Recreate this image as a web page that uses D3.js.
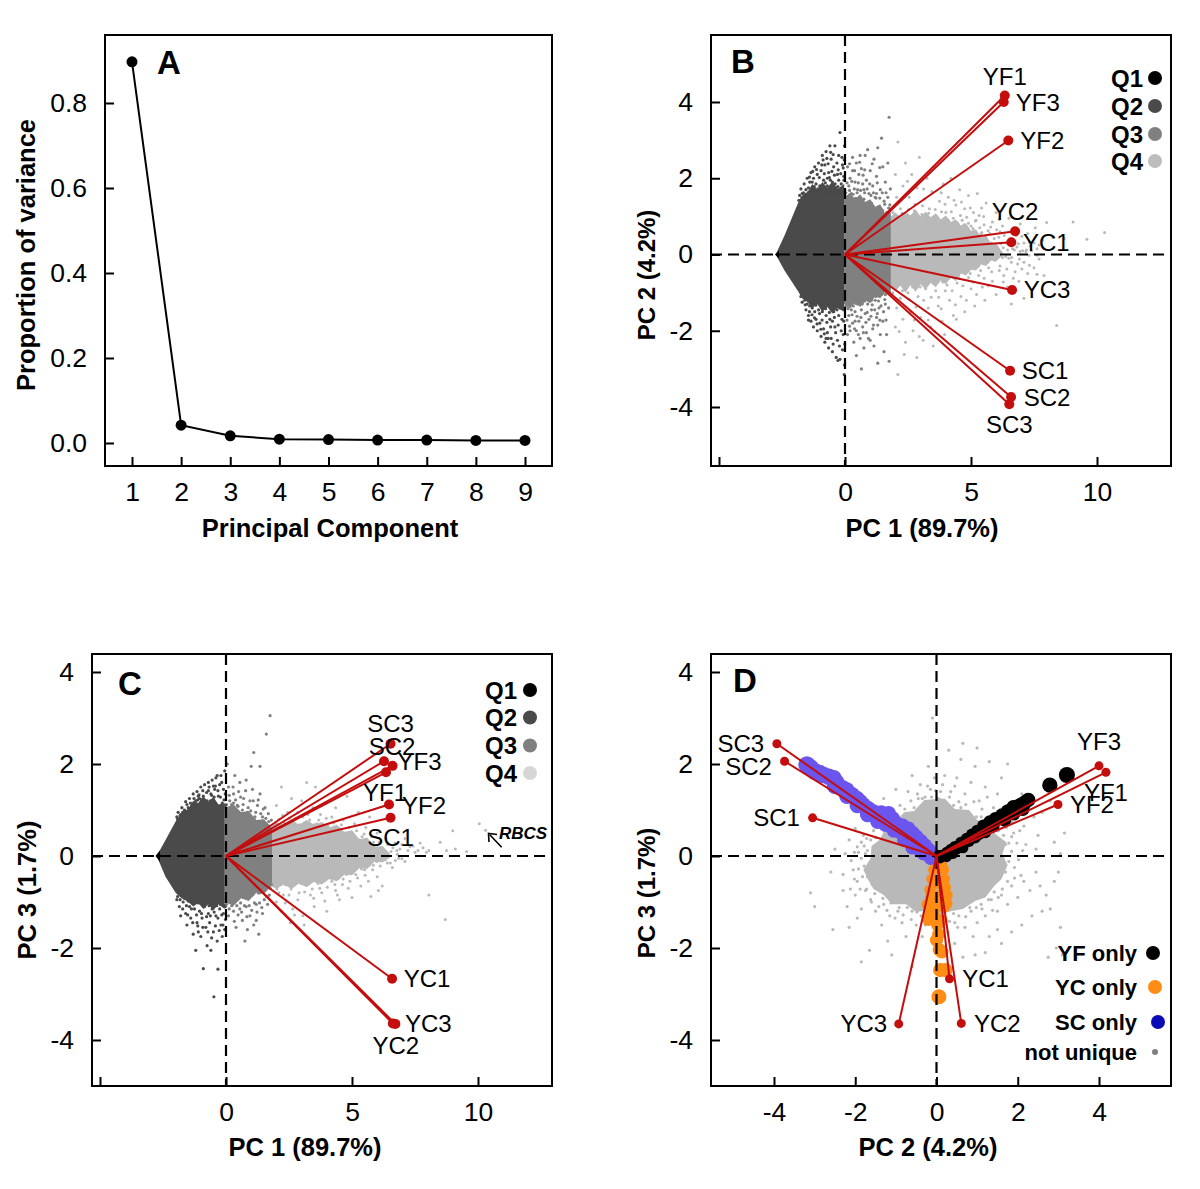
<!DOCTYPE html>
<html><head><meta charset="utf-8"><script src="https://cdn.jsdelivr.net/npm/d3@7"></script>
<style>html,body{margin:0;background:#fff}svg{display:block}text{font-family:"Liberation Sans",Arial,sans-serif;fill:#000}</style></head><body><svg id="c" width="1200" height="1189"></svg>
<script>
// ---------- data ----------
const components=[1,2,3,4,5,6,7,8,9];
const proportion=[0.897,0.042,0.017,0.009,0.008,0.007,0.007,0.006,0.006];
const samples=["YF1","YF2","YF3","YC1","YC2","YC3","SC1","SC2","SC3"];
const loadPC1b=[6.34,6.48,6.30,6.60,6.75,6.63,6.55,6.59,6.52];
const loadPC2=[4.17,2.99,4.00,0.32,0.61,-0.93,-3.05,-3.74,-3.93];
const loadPC1c=[6.35,6.47,6.61,6.59,6.62,6.72,6.53,6.27,6.53];
const loadPC3=[1.82,1.12,1.96,-2.67,-3.64,-3.65,0.83,2.06,2.44];

// dense core outlines [x, upper, lower]
const bandBQ1=[[-2.78,0,0],[-2.62,.1,-.1]];
const bandBQ2=[[-2.75,0,0],[-2.4,.5,-.42],[-1.85,1.37,-.98],[-1.7,1.55,-1.15],[-1.5,1.62,-1.22],[-1.3,1.85,-1.4],[-1.1,1.7,-1.3],[-.9,1.9,-1.5],[-.7,1.75,-1.38],[-.5,1.92,-1.55],[-.3,1.72,-1.4],[-.03,1.85,-1.5]];
const bandBQ3=[[-.03,1.5,-1.3],[.2,1.62,-1.42],[.4,1.45,-1.25],[.6,1.58,-1.38],[.8,1.38,-1.2],[1.0,1.45,-1.28],[1.2,1.25,-1.1],[1.4,1.32,-1.15],[1.6,1.05,-.98],[1.82,1.1,-1.02]];
const bandBQ4=[[1.82,1.0,-.85],[2.0,1.1,-.95],[2.2,.98,-.82],[2.4,1.12,-1.0],[2.6,1.02,-.8],[2.8,1.18,-.98],[3.0,1.0,-.78],[3.2,1.12,-.92],[3.4,.98,-.74],[3.6,1.08,-.86],[3.8,.92,-.68],[4.0,1.02,-.78],[4.2,.85,-.6],[4.4,.92,-.7],[4.6,.76,-.5],[4.8,.82,-.55],[5.0,.62,-.4],[5.2,.66,-.42],[5.4,.45,-.26],[5.6,.5,-.3],[5.8,.28,-.16],[6.0,.3,-.18],[6.2,.1,-.06]];
const bandCQ1=[[-2.8,0,0],[-2.62,.12,-.12]];
const bandCQ2=[[-2.75,0,0],[-2.4,.35,-.45],[-2,.75,-.8],[-1.8,.92,-.9],[-1.5,1.02,-1.0],[-1.3,1.2,-1.1],[-1.1,1.15,-1.02],[-.9,1.3,-1.15],[-.7,1.18,-1.05],[-.5,1.28,-1.18],[-.3,1.12,-1.05],[-.05,1.15,-1.15]];
const bandCQ3=[[-.05,1.05,-1.0],[.3,1.12,-1.08],[.6,.95,-.92],[.9,.98,-.98],[1.2,.78,-.8],[1.5,.8,-.82],[1.83,.62,-.64]];
const bandCQ4=[[1.83,.66,-.65],[2.0,.74,-.72],[2.3,.66,-.62],[2.6,.78,-.72],[2.9,.68,-.6],[3.2,.78,-.68],[3.5,.68,-.56],[3.8,.74,-.62],[4.1,.62,-.5],[4.4,.68,-.55],[4.7,.52,-.4],[5,.56,-.42],[5.3,.36,-.26],[5.6,.4,-.28],[5.9,.2,-.12],[6.2,.22,-.14],[6.5,.06,-.04]];
const blobD=[[-.3,1.22],[-.55,.98],[-.8,.95],[-1.0,.72],[-1.25,.62],[-1.4,.35],[-1.6,.22],[-1.62,-.05],[-1.8,-.3],[-1.68,-.52],[-1.55,-.72],[-1.3,-.85],[-1.1,-1.05],[-.75,-1.05],[-.5,-1.22],[-.2,-1.18],[0,-1.3],[.35,-1.2],[.65,-1.15],[.95,-.98],[1.2,-.9],[1.42,-.65],[1.6,-.5],[1.75,-.2],[1.62,.05],[1.72,.3],[1.45,.48],[1.3,.7],[1.0,.78],[.8,1.0],[.45,1.02],[.2,1.25]];

const scatterBQ2=[[-1.8,1.55],[-1.75,1.72],[-1.7,1.6],[-1.62,1.85],[-1.55,1.7],[-1.5,2.0],[-1.45,1.75],[-1.4,1.9],[-1.35,2.15],[-1.3,1.7],[-1.25,2.0],[-1.2,2.3],[-1.15,1.85],[-1.1,2.1],[-1.05,2.4],[-1,1.8],[-.95,2.2],[-.9,2.6],[-.85,1.95],[-.8,2.35],[-.75,2.7],[-.7,1.8],[-.65,2.15],[-.6,2.85],[-.55,2.5],[-.5,1.9],[-.45,2.3],[-.4,2.85],[-.35,1.75],[-.3,2.1],[-.25,2.6],[-.2,3.2],[-.15,1.85],[-.1,2.35],[-.05,2.05],[-.02,2.85],[-1.6,1.5],[-1.2,1.65],[-.8,1.7],[-.4,1.65],[-.1,1.7],[-1.65,1.62],[-1.3,1.9],[-1.05,1.68],[-.7,2.0],[-.55,1.75],[-.25,1.95],
[-1.75,-1.1],[-1.7,-1.25],[-1.6,-1.2],[-1.55,-1.45],[-1.5,-1.3],[-1.45,-1.6],[-1.4,-1.35],[-1.35,-1.75],[-1.3,-1.4],[-1.25,-1.9],[-1.2,-1.5],[-1.15,-1.7],[-1.1,-2.0],[-1.05,-1.45],[-1,-1.8],[-.95,-2.15],[-.9,-1.5],[-.85,-1.95],[-.8,-2.3],[-.75,-1.6],[-.7,-2.05],[-.65,-2.45],[-.6,-1.7],[-.55,-2.2],[-.5,-2.55],[-.45,-1.5],[-.4,-1.9],[-.35,-2.7],[-.3,-2.25],[-.25,-1.6],[-.2,-2.75],[-.15,-2.0],[-.1,-2.5],[-.05,-1.75],[-.02,-2.9],[-.03,-3.15],[-1.3,-1.25],[-.9,-1.3],[-.5,-1.75],[-.2,-1.4],[-.65,-1.3],[-1.45,-1.72],[-.75,-2.2],[-.28,-2.78],
[-1.83,1.42],[-1.71,1.49],[-1.66,1.44],[-1.58,1.58],[-1.52,1.47],[-1.47,1.62],[-1.43,1.55],[-1.38,1.48],[-1.33,1.63],[-1.27,1.53],[-1.22,1.78],[-1.17,1.58],[-1.12,1.49],[-1.08,1.72],[-1.03,1.57],[-.98,1.66],[-.93,1.52],[-.88,1.77],[-.83,1.58],[-.78,1.88],[-.74,1.56],[-.69,1.69],[-.63,1.6],[-.58,1.95],[-.53,1.61],[-.48,1.72],[-.44,1.56],[-.39,1.85],[-.33,1.62],[-.28,1.78],[-.23,1.64],[-.18,1.6],[-.13,1.72],[-.08,1.62],[-.04,1.95],[-.01,1.68],
[-1.41,2.03],[-1.28,2.18],[-1.13,2.23],[-1.02,2.02],[-.92,2.35],[-.82,2.12],[-.67,2.38],[-.62,2.02],[-.52,2.18],[-.42,2.08],[-.32,2.4],[-.27,2.22],[-.17,2.12],[-.12,2.55],[-.07,2.27],[-.03,2.48],[-.57,2.68],[-.47,2.62],[-.72,2.52],[-.87,2.48],
[-1.72,-1.03],[-1.65,-1.12],[-1.58,-1.32],[-1.52,-1.18],[-1.46,-1.22],[-1.41,-1.5],[-1.36,-1.28],[-1.31,-1.58],[-1.26,-1.26],[-1.21,-1.66],[-1.16,-1.33],[-1.11,-1.82],[-1.06,-1.27],[-1.01,-1.55],[-.96,-1.96],[-.91,-1.72],[-.87,-1.28],[-.82,-2.08],[-.77,-1.42],[-.72,-1.78],[-.67,-2.2],[-.62,-1.52],[-.57,-1.9],[-.52,-1.33],[-.47,-2.35],[-.42,-1.65],[-.37,-2.05],[-.32,-1.45],[-.27,-1.85],[-.22,-2.4],[-.17,-1.35],[-.12,-1.7],[-.07,-2.1],[-.04,-1.4],[-.01,-2.35],[-.6,-1.3]];
const scatterBQ3=[[.05,1.4],[.1,2.3],[.15,1.8],[.2,2.0],[.25,1.6],[.3,2.2],[.35,1.45],[.4,1.9],[.45,2.4],[.5,1.7],[.55,2.1],[.6,1.5],[.65,2.25],[.7,1.85],[.75,1.45],[.8,2.6],[.85,1.95],[.9,2.75],[.95,1.6],[1,2.2],[1.05,1.35],[1.1,1.8],[1.15,2.5],[1.2,1.5],[1.25,2.05],[1.3,2.8],[1.35,1.25],[1.4,1.7],[1.45,3.05],[1.5,2.3],[1.55,1.4],[1.6,1.9],[1.65,1.1],[1.7,2.4],[1.75,3.6],[1.78,1.3],[.3,2.55],[.6,2.6],[.2,1.5],[.45,1.35],[.75,1.7],[1,1.3],[1.25,1.6],[1.5,1.15],[1.7,1.5],
[.05,-1.35],[.1,-2.1],[.15,-1.6],[.2,-2.0],[.25,-1.45],[.3,-1.8],[.35,-2.3],[.4,-1.5],[.45,-2.0],[.5,-1.3],[.55,-1.75],[.6,-2.2],[.65,-1.45],[.7,-1.9],[.75,-2.45],[.8,-1.55],[.85,-2.05],[.9,-1.3],[.95,-1.7],[1,-2.25],[1.05,-1.45],[1.1,-1.95],[1.15,-2.4],[1.2,-1.2],[1.25,-1.65],[1.3,-2.85],[1.35,-1.4],[1.4,-2.1],[1.45,-1.05],[1.5,-1.75],[1.55,-2.55],[1.6,-1.3],[1.65,-2.1],[1.7,-.95],[1.75,-2.8],[.45,-2.65],[.65,-3.0],[.15,-1.3],[.4,-1.75],[.7,-1.25],[1.05,-1.2],[1.3,-1.85],[1.6,-1.05],
[.03,1.62],[.08,1.88],[.12,1.52],[.18,1.68],[.22,1.42],[.27,1.92],[.32,1.58],[.37,1.72],[.42,1.47],[.48,1.62],[.53,1.88],[.58,1.42],[.62,1.68],[.68,1.38],[.72,2.08],[.78,1.62],[.83,1.32],[.88,1.72],[.93,1.25],[.98,1.85],[1.03,1.55],[1.08,1.25],[1.13,1.62],[1.18,1.18],[1.23,1.48],[1.28,1.88],[1.33,1.12],[1.38,1.48],[1.43,1.2],[1.48,1.62],[1.53,1.05],[1.58,1.32],[1.63,1.62],[1.68,1.0],[1.73,1.22],[1.8,1.72],[.18,2.38],[.38,2.2],[.58,2.42],[.78,2.22],[1.08,2.38],[1.38,2.28],
[.03,-1.25],[.08,-1.72],[.12,-1.42],[.18,-1.88],[.22,-1.25],[.28,-1.58],[.33,-1.35],[.38,-1.95],[.43,-1.28],[.48,-1.62],[.53,-2.1],[.58,-1.22],[.63,-1.65],[.68,-1.3],[.73,-2.05],[.78,-1.22],[.83,-1.78],[.88,-1.52],[.93,-2.2],[.98,-1.15],[1.03,-1.62],[1.08,-1.32],[1.13,-1.85],[1.18,-1.45],[1.23,-1.1],[1.28,-1.55],[1.33,-1.22],[1.38,-1.72],[1.43,-1.35],[1.48,-1.02],[1.53,-1.5],[1.58,-1.18],[1.63,-1.72],[1.68,-.98],[1.73,-1.4]];
const scatterBQ4=[[1.9,1.1],[2,2.1],[2.05,1.5],[2.1,2.95],[2.2,1.2],[2.3,1.8],[2.4,2.4],[2.45,1.0],[2.55,1.5],[2.65,2.1],[2.75,1.15],[2.85,1.75],[2.95,2.55],[3.05,1.05],[3.15,1.45],[3.25,2.0],[3.35,1.2],[3.45,1.65],[3.55,2.3],[3.65,1.0],[3.75,1.4],[3.9,1.85],[4,1.1],[4.1,1.5],[4.2,2.0],[4.3,.95],[4.4,1.3],[4.55,1.7],[4.65,.9],[4.75,1.2],[4.9,1.55],[5,.75],[5.1,1.1],[5.25,1.6],[5.35,.7],[5.5,1.0],[5.6,1.35],[5.75,.55],[5.85,.85],[6,1.1],[6.1,.45],[6.25,.75],[6.4,.3],[6.5,.95],[6.65,.15],[6.8,.5],[6.95,.8],[7.1,.3],[7.25,.55],[7.4,.1],[7.55,.7],[7.7,.25],[8,.84],[8.25,.45],[9.05,.85],[8.7,.42],[10.3,.58],[9.6,.4],
[5.6,.12],[5.8,.3],[6.0,.22],[6.2,.05],[6.45,.12],[6.7,.35],[6.95,.08],[7.2,.12],[7.5,.3],[5.4,.55],[4.9,.82],[4.4,.85],[3.6,.95],[2.8,.98],[6.15,.6],[5.2,.9],[4.1,.9],[3.2,.92],[2.3,.9],
[1.9,-1.0],[2,-1.9],[2.05,-1.4],[2.1,-3.15],[2.2,-1.15],[2.3,-1.7],[2.4,-2.3],[2.5,-1.0],[2.6,-1.5],[2.7,-2.0],[2.85,-2.7],[2.9,-1.1],[3,-1.65],[3.1,-2.25],[3.2,-.9],[3.3,-1.4],[3.4,-1.9],[3.5,-2.4],[3.6,-.95],[3.7,-1.35],[3.85,-1.75],[3.95,-2.1],[4.05,-.8],[4.15,-1.2],[4.3,-1.6],[4.45,-.75],[4.6,-1.1],[4.75,-1.5],[4.9,-.6],[5,-.9],[5.15,-1.35],[5.3,-.55],[5.45,-.85],[5.55,-1.2],[5.7,-.35],[5.85,-.7],[6,-1.05],[6.15,-.3],[6.3,-.55],[6.45,-.85],[6.6,-.2],[6.75,-.45],[6.9,-.7],[7.1,-.2],[7.25,-.5],[7.5,-.35],[7.9,-.55],[8.4,-1.86],[7.1,-1.15],[6.6,-1.3],[5.65,-.2],[5.95,-.15],[6.25,-.08],[6.5,-.1],[4.5,-.55],[3.5,-.75],[2.7,-.8],[4.9,-.42],[5.3,-.3],[3.9,-.7],[7.3,-.02],[7.7,-.12],
[1.88,.95],[2.02,1.02],[2.13,.92],[2.27,1.08],[2.38,.96],[2.52,1.18],[2.62,.98],[2.78,1.32],[2.92,1.0],[3.08,1.28],[3.18,.98],[3.32,1.08],[3.48,.95],[3.58,1.18],[3.72,.92],[3.83,1.12],[3.97,1.32],[4.08,.88],[4.22,1.12],[4.33,1.42],[4.47,.82],[4.58,1.02],[4.72,.78],[4.83,.98],[4.97,1.22],[5.08,.68],[5.17,.88],[5.32,1.02],[5.43,.58],[5.52,.78],[5.68,.62],[5.78,.72],[5.92,.42],[6.02,.65],[6.18,.28],[6.32,.5],[6.58,.42],[6.72,.12],[6.88,.28],[7.02,.48],[7.18,.08],[7.32,.32],[7.62,.15],[7.85,.38],[6.12,.92],[5.42,1.22],[4.62,1.38],[3.82,1.62],[3.12,1.72],[2.48,1.92],
[5.62,.28],[5.72,.08],[5.88,.18],[6.08,.12],[6.28,.18],[6.38,-.05],[6.55,.25],[6.62,-.08],[6.82,.2],[6.92,-.12],[7.05,.1],[7.35,.22],[7.62,-.02],
[1.88,-.8],[2.02,-.88],[2.15,-.78],[2.28,-.95],[2.42,-.82],[2.55,-1.18],[2.68,-.85],[2.82,-1.38],[2.98,-.85],[3.12,-1.2],[3.28,-.78],[3.42,-1.12],[3.58,-.78],[3.72,-1.12],[3.88,-.72],[3.98,-.95],[4.12,-.62],[4.25,-.95],[4.38,-1.32],[4.52,-.62],[4.68,-.82],[4.82,-1.2],[4.97,-.5],[5.08,-.72],[5.22,-1.05],[5.38,-.42],[5.52,-.62],[5.68,-.82],[5.82,-.45],[6.12,-.42],[6.28,-.72],[6.42,-.38],[6.68,-.62],[6.85,-.25],[7.02,-.38],[7.32,-.28],[7.62,-.52],[3.3,-1.72],[3.82,-1.42],[4.42,-1.7],[2.15,-2.02],[2.75,-1.72],[3.55,-2.02],[2.95,-2.15],[2.35,-2.62]];

const scatterCQ2=[[-1.95,.85],[-1.9,.95],[-1.8,.9],[-1.75,1.05],[-1.65,1.0],[-1.6,1.18],[-1.5,1.05],[-1.45,1.25],[-1.35,1.1],[-1.3,1.35],[-1.2,1.2],[-1.15,1.4],[-1.05,1.25],[-1,1.5],[-.9,1.3],[-.85,1.55],[-.75,1.2],[-.7,1.6],[-.6,1.35],[-.55,1.65],[-.5,1.2],[-.45,1.45],[-.4,1.7],[-.3,1.3],[-.25,1.55],[-.2,1.75],[-.15,1.15],[-.1,1.45],[-.05,1.85],[-.02,1.1],[-.35,1.75],[-.7,1.42],[-1.1,1.3],[-.5,1.52],[-.12,1.05],
[-1.95,-.95],[-1.85,-1.1],[-1.8,-1.3],[-1.7,-1.0],[-1.6,-1.25],[-1.55,-1.5],[-1.45,-1.1],[-1.4,-1.35],[-1.3,-1.7],[-1.25,-1.15],[-1.2,-2.05],[-1.15,-1.45],[-1.05,-1.2],[-1,-1.75],[-.95,-1.35],[-.9,-2.45],[-.85,-1.1],[-.8,-1.55],[-.75,-1.95],[-.7,-1.25],[-.65,-1.45],[-.6,-2.05],[-.55,-1.15],[-.5,-1.65],[-.48,-3.06],[-.4,-1.3],[-.35,-1.85],[-.32,-2.46],[-.25,-1.15],[-.2,-1.5],[-.15,-1.75],[-.1,-1.25],[-.05,-1.6],[-.03,-1.1],[-1.5,-.98],[-1.1,-1.02],[-.6,-1.05],[-1.1,-1.65],
[-1.92,.8],[-1.82,.88],[-1.72,.95],[-1.62,.98],[-1.55,1.12],[-1.47,1.02],[-1.41,1.15],[-1.33,1.05],[-1.27,1.25],[-1.22,1.12],[-1.12,1.22],[-1.07,1.33],[-.97,1.22],[-.92,1.42],[-.82,1.18],[-.77,1.38],[-.72,1.12],[-.67,1.5],[-.62,1.2],[-.57,1.32],[-.52,1.12],[-.47,1.28],[-.42,1.52],[-.37,1.1],[-.32,1.42],[-.27,1.08],[-.22,1.28],[-.17,1.6],[-.13,1.02],[-.08,1.22],[-.03,1.35],
[-1.92,-.88],[-1.82,-.95],[-1.72,-1.15],[-1.65,-.92],[-1.57,-1.08],[-1.52,-1.28],[-1.42,-.98],[-1.37,-1.15],[-1.32,-1.45],[-1.22,-1.0],[-1.17,-1.28],[-1.12,-1.52],[-1.02,-1.02],[-.97,-1.25],[-.92,-1.55],[-.82,-1.02],[-.77,-1.32],[-.72,-1.65],[-.67,-1.08],[-.62,-1.3],[-.57,-1.78],[-.52,-1.02],[-.47,-1.22],[-.42,-1.52],[-.37,-1.08],[-.32,-1.35],[-.27,-1.62],[-.22,-1.05],[-.17,-1.28],[-.12,-1.5],[-.07,-1.08],[-.02,-1.38]];
const scatterCQ3=[[.05,1.0],[.1,1.5],[.15,1.2],[.25,1.05],[.3,1.35],[.35,1.75],[.45,1.1],[.5,1.4],[.55,1.6],[.65,1.0],[.7,1.25],[.8,1.65],[.85,.95],[.95,1.2],[1.05,1.45],[1.1,2.25],[1.15,.85],[1.25,1.1],[1.35,1.35],[1.45,.85],[1.55,1.05],[1.6,2.65],[1.7,.75],[1.75,3.05],[.05,2.0],[.3,1.15],[1.35,1.95],[1.0,1.95],
[.05,-.95],[.1,-1.3],[.2,-1.0],[.3,-1.2],[.4,-1.55],[.45,-.95],[.55,-1.15],[.65,-1.4],[.7,-.9],[.8,-1.1],[.85,-1.6],[.95,-1.3],[1.05,-.85],[1.1,-1.5],[1.2,-1.05],[1.3,-1.7],[1.35,-.8],[1.45,-1.25],[1.55,-.75],[1.65,-1.05],[1.75,-.7],[.75,-1.85],[1.2,-1.4],
[.02,1.12],[.08,.98],[.13,1.32],[.18,.95],[.22,1.12],[.28,1.5],[.33,.95],[.38,1.22],[.42,.92],[.48,1.08],[.53,.88],[.58,1.28],[.62,.92],[.68,1.12],[.73,.88],[.78,1.42],[.83,.82],[.88,1.05],[.92,.82],[.98,.98],[1.02,.78],[1.08,1.2],[1.13,.78],[1.18,.95],[1.23,.72],[1.28,1.22],[1.33,.72],[1.38,.92],[1.43,.7],[1.48,1.02],[1.53,.66],[1.58,.82],[1.63,.64],[1.68,.92],[1.73,.62],[1.8,.78],
[.02,-1.05],[.08,-.92],[.13,-1.15],[.18,-.88],[.23,-1.08],[.28,-.92],[.33,-1.42],[.38,-.88],[.43,-1.08],[.48,-1.28],[.53,-.88],[.58,-1.02],[.62,-1.22],[.68,-.88],[.73,-1.08],[.78,-.85],[.83,-1.32],[.88,-.88],[.92,-1.08],[.98,-.82],[1.02,-1.18],[1.08,-.82],[1.13,-1.02],[1.18,-.76],[1.23,-1.22],[1.28,-.8],[1.33,-1.02],[1.38,-.74],[1.42,-1.12],[1.48,-.72],[1.52,-.95],[1.58,-.7],[1.62,-.88],[1.68,-.68],[1.72,-.85],[1.8,-.62]];
const scatterCQ4=[[1.9,.65],[2,1.1],[2.1,.8],[2.2,1.5],[2.3,.72],[2.45,.95],[2.6,1.25],[2.7,.72],[2.85,.95],[3,1.2],[3.1,.72],[3.25,.9],[3.45,1.05],[3.55,1.5],[3.6,.7],[3.75,.9],[3.95,1.15],[4.05,.65],[4.2,.85],[4.35,1.05],[4.5,.6],[4.65,.78],[4.8,1.3],[4.95,.5],[5.1,.7],[5.25,.95],[5.4,.42],[5.55,.62],[5.7,.85],[5.85,.3],[6,.5],[6.2,.18],[6.35,.38],[6.55,.1],[6.7,.28],[6.9,.15],[7.1,.38],[7.3,.2],[7.5,.08],[7.7,.28],[8.05,.12],[8.5,.3],[8.75,.12],[9.1,.15],[9.55,.1],[9,.55],[10.05,.7],[10.3,.56],[6.1,.04],[6.8,.04],[7.95,.08],[3.2,1.6],
[1.9,-.65],[2,-1.0],[2.1,-.8],[2.2,-1.2],[2.35,-.62],[2.5,-.85],[2.65,-1.15],[2.75,-.58],[2.9,-.8],[3.05,-1.3],[3.2,-.62],[3.35,-.85],[3.5,-1.1],[3.65,-.6],[3.8,-.8],[4,-1.2],[4.2,-.55],[4.35,-.75],[4.5,-.95],[4.65,-.5],[4.85,-.7],[5,-.9],[5.15,-.4],[5.35,-.65],[5.5,-.3],[5.65,-.55],[5.85,-.2],[6,-.45],[6.2,-.65],[6.4,-.15],[6.6,-.25],[6.85,-.05],[7.1,-.12],[8.05,-.85],[8.7,-1.38],[3.1,-1.5],[2.55,-1.45],[6.05,-.75],[5.75,-.88],
[1.88,.58],[1.98,.72],[2.12,.62],[2.25,.88],[2.38,.66],[2.52,.82],[2.65,.7],[2.78,.82],[2.92,.68],[3.05,.85],[3.18,.68],[3.32,.78],[3.5,.68],[3.68,.78],[3.82,.66],[3.98,.82],[4.12,.6],[4.28,.72],[4.42,.55],[4.58,.68],[4.72,.5],[4.88,.62],[5.02,.42],[5.18,.55],[5.32,.35],[5.48,.48],[5.62,.3],[5.78,.42],[5.92,.18],[6.08,.3],[6.28,.08],[6.42,.25],[6.62,.18],[6.78,.12],[6.98,.25],[7.22,.12],[7.42,.22],[7.62,.12],[7.82,.18],
[1.88,-.6],[2.02,-.72],[2.15,-.6],[2.28,-.85],[2.42,-.62],[2.58,-.72],[2.72,-.62],[2.85,-.95],[2.98,-.6],[3.12,-.78],[3.28,-.55],[3.42,-.72],[3.58,-.55],[3.72,-.7],[3.88,-.52],[4.02,-.68],[4.18,-.48],[4.32,-.62],[4.48,-.48],[4.62,-.62],[4.78,-.4],[4.92,-.55],[5.08,-.32],[5.22,-.48],[5.38,-.28],[5.52,-.42],[5.68,-.2],[5.82,-.3],[5.98,-.12],[6.12,-.22],[6.32,-.08],[6.52,-.15],[6.72,-.1],[6.98,-.06],[2.35,-1.02],[3.48,-.92],[4.42,-.85],[3.92,-.98],[2.72,-1.28]];

const scatterD=[[-1.6,.75],[-1.45,.95],[-1.3,1.25],[-1.15,.9],[-1,1.45],[-.9,1.1],[-.85,.85],[-.7,1.4],[-.6,1.75],[-.55,1.05],[-.4,1.55],[-.35,1.25],[-.2,1.95],[-.15,1.45],[-.05,1.7],[-.1,3.0],[.1,1.4],[.2,1.75],[.3,2.3],[.35,1.4],[.5,1.7],[.6,2.1],[.65,2.45],[.7,1.35],[.85,1.6],[.95,1.95],[1,2.35],[1.05,1.2],[1.2,1.5],[1.3,2.05],[1.4,1.05],[1.5,1.35],[1.6,1.7],[1.75,2.0],[1.65,.9],[1.85,.75],[2,1.0],[2.1,1.35],[1.9,.5],[2.15,.65],[2.4,.85],[2.6,.95],[2.5,.45],[2.8,1.2],[2.2,.25],[2.45,.15],[1.85,.1],[-1.8,.45],[-1.95,.2],[-2,.6],[-2.15,.35],[-2.25,.05],[-2.1,-.1],[-2.5,.15],[-1.85,-.05],
[-2.6,-.35],[-2.3,-.4],[-2.05,-.3],[-1.95,-.55],[-2.3,-.75],[-2.0,-.85],[-1.75,-.75],[-1.6,-1.0],[-1.85,-1.15],[-2.2,-1.1],[-2.55,-1.6],[-3.1,-.8],[-3.0,-1.1],[-2.15,-1.55],[-1.95,-1.35],[-1.5,-1.2],[-1.3,-1.05],[-1.15,-1.3],[-.95,-1.2],[-.85,-1.45],[-1.35,-1.5],[-1.2,-1.85],[-1.65,-2.05],[-1.85,-2.3],[-1.1,-2.15],[-.75,-1.75],[-.6,-1.2],[-.5,-1.5],[.55,-1.3],[.7,-1.55],[.85,-1.2],[1,-1.45],[1.1,-1.05],[1.2,-1.3],[1.35,-.95],[1.5,-1.2],[1.6,-.85],[1.75,-1.05],[1.85,-.65],[2,-.9],[2.15,-.55],[2.3,-.75],[2.45,-.35],[2.55,-.65],[2.7,-.85],[2.9,-.55],[3.0,-.35],[3.05,-1.55],[2.8,-1.15],[2.6,-1.2],[2.35,-1.3],[2.1,-1.5],[1.85,-1.65],[1.5,-1.6],[1.3,-1.75],[1.6,-1.9],[.9,-1.75],[.95,-2.15],[.65,-2.2],[.45,-1.9],[1.2,-2.1],[2.95,-2.0],[3.1,-2.15],[2.75,-2.2],[-.6,-2.4],[-.35,-1.75],[.45,-1.45],[3.15,.5],[2.9,.3],[3.05,.05],[1.7,-.35],[1.7,.25],[-1.75,.05],[-1.7,-.45],[-1.5,.4],[-1.1,.78],[.05,1.25],[.6,1.05],[1.1,.85],[-.45,1.25],
[-1.62,.35],[-1.7,.12],[-1.55,.55],[-1.42,.62],[-1.35,.78],[-1.22,.68],[-1.18,1.05],[-1.08,.92],[-.95,.85],[-.78,1.02],[-.72,.88],[-.63,1.2],[-.52,.95],[-.47,1.35],[-.38,1.08],[-.28,1.28],[-.22,1.52],[-.12,1.28],[-.02,1.42],[.08,1.22],[.15,1.55],[.22,1.18],[.32,1.28],[.42,1.1],[.45,1.52],[.55,1.18],[.72,1.12],[.78,.92],[.92,1.18],[.98,.85],[1.12,1.02],[1.18,.75],[1.25,1.28],[1.32,.62],[1.42,.85],[1.52,.55],[1.58,1.02],[1.65,.45],[1.72,.62],[1.78,.28],[1.85,.42],[1.98,.28],[2.05,.55],[2.12,.12],
[1.78,-.12],[1.92,-.25],[2.02,-.08],[2.08,-.42],[1.75,-.55],[1.62,-.72],[1.92,-.48],[1.52,-.9],[1.42,-.78],[1.38,-1.18],[1.28,-.95],[1.12,-1.15],[.98,-1.12],[.82,-1.12],[.72,-1.32],[.62,-1.12],[.52,-1.55],[.42,-1.25],[.32,-1.42],[.28,-1.65],[-.18,-1.32],[-.28,-1.5],[-.38,-1.3],[-.48,-1.22],[-.62,-1.38],[-.72,-1.12],[-.82,-1.28],[-.92,-1.12],[-1.02,-1.35],[-1.12,-1.02],[-1.22,-1.18],[-1.32,-.92],[-1.42,-1.1],[-1.52,-.82],[-1.62,-.95],[-1.58,-.62],[-1.72,-.72],[-1.82,-.45],[-1.78,-.22],[-1.88,-.72],[-1.92,-.28],[-2.02,-.5],[-2.12,-.72],[-1.92,.08],[-1.78,.22],[-1.72,.38],[-1.85,.3],[-2.02,.08]];
const blueOnly=[[-3.19,1.98],[-3.1,1.92],[-2.99,1.83],[-2.88,1.8],[-2.78,1.76],[-2.65,1.72],[-2.53,1.69],[-2.46,1.6],[-2.41,1.51],[-2.3,1.47],[-2.21,1.43],[-2.08,1.33],[-1.96,1.25],[-1.88,1.18],[-1.8,1.11],[-1.68,1.03],[-1.55,.96],[-1.36,.94],[-1.18,.93],[-1.08,.82],[-.98,.71],[-.83,.66],[-.69,.6],[-.58,.5],[-.49,.42],[-.38,.33],[-.28,.24],[-.2,.16],[-.12,.09],[-.9,.52],[-.7,.38],[-.5,.2],[-.32,.05],[-.6,.18],[-.15,-.05],[-2.5,1.52],[-2.2,1.3],[-1.95,1.1],[-1.7,.9],[-1.45,.75],[-1.25,.68],[-1.05,.55],[-.8,.35],[-.4,.1]];
const blackOnly=[[3.21,1.76],[2.79,1.54],[2.26,1.22],[2.18,1.17],[2.08,1.12],[1.98,1.08],[1.89,1.07],[1.75,.98],[1.6,.89],[1.45,.82],[1.31,.75],[1.15,.66],[1.0,.55],[.87,.47],[.74,.38],[.6,.3],[.45,.21],[.35,.15],[.25,.09],[.15,.03],[.09,-.05],[.5,.15],[.8,.32],[1.05,.48],[.25,-.02],[.05,.02],[2.12,1.02],[1.9,.92],[1.68,.78],[1.4,.65],[1.2,.52],[.95,.4],[.65,.18],[.4,.05]];
const orangeOnly=[[.06,-3.06],[.09,-2.48],[.22,-2.48],[.07,-2.04],[.13,-2.08],[.0,-1.83],[.05,-1.7],[-.2,-1.39],[-.16,-1.25],[-.22,-1.05],[.2,-1.1],[.25,-1.03],[.16,-.85],[.22,-.68],[.2,-.5],[.18,-.3],[.14,-.2],[.1,-.1],[-.16,-.74],[-.12,-.5],[-.08,-.3],[-.04,-.15],[.02,-.6],[.02,-1.1],[-.08,-1.0],[.08,-.85],[.02,-1.5],[.12,-1.4],[-.14,-.9],[.18,-.95],[-.05,-1.3],[.26,-.85]];
const labelOffsetB=[[0,-19],[34,0],[34,0],[35,0],[0,-20],[35,0],[35,0],[36,0],[0,20]];
const labelOffsetC=[[-1,20],[35,1],[27,-4],[35,0],[3,22],[33,0],[0,20],[8,-15],[0,-20]];
const labelOffsetD=[[0,20],[34,0],[0,-24],[36,0],[36,0],[-35,0],[-36,0],[-36,5],[-36,0]];
const qNames=["Q1","Q2","Q3","Q4"];
const xTicksBC=[-5,0,5,10];
const yTicksB=[-4,-2,0,2,4];
const yTicksCD=[-4,-2,0,2,4];
const xTicksD=[-4,-2,0,2,4];

// ---------- drawing ----------
const svg=d3.select("#c");
const RED="#c40d0d",Q=["#000","#4a4a4a","#808080","#b9b9b9"];
const TICK=26.5,TITLE=25.5,LAB=24;
const hideNeg5=d=>d===-5?"":d;
function panel(o){
  const g=svg.append("g");
  const x=d3.scaleLinear().domain(o.xd).range(o.xr), y=d3.scaleLinear().domain(o.yd).range(o.yr);
  return {g,x,y,o};
}
function axes(p){
  const {g,x,y,o}=p;
  const ax=d3.axisBottom(x).tickValues(o.xt).tickSizeInner(-9).tickSizeOuter(0).tickPadding(o.xpad||16.5).tickFormat(o.xf||(d=>d));
  const ay=d3.axisLeft(y).tickValues(o.yt).tickSizeInner(-9).tickSizeOuter(0).tickPadding(o.ypad||18).tickFormat(o.yf||(d=>d));
  const ga=g.append("g").attr("transform",`translate(0,${o.box[3]})`).call(ax);
  const gb=g.append("g").attr("transform",`translate(${o.box[0]},0)`).call(ay);
  [ga,gb].forEach(s=>{s.select(".domain").remove();s.selectAll("line").attr("stroke","#000").attr("stroke-width",2);
    s.selectAll("text").attr("font-size",TICK).style("font-family",'"Liberation Sans"');});
  g.append("rect").attr("x",o.box[0]).attr("y",o.box[1]).attr("width",o.box[2]-o.box[0]).attr("height",o.box[3]-o.box[1]).attr("fill","none").attr("stroke","#000").attr("stroke-width",2);
  g.append("text").attr("x",o.xtitle[0]).attr("y",o.xtitle[1]).attr("text-anchor","middle").attr("font-weight","bold").attr("font-size",TITLE).text(o.xlab);
  g.append("text").attr("transform",`translate(${o.ytitle[0]},${o.ytitle[1]}) rotate(-90)`).attr("text-anchor","middle").attr("font-weight","bold").attr("font-size",o.yts||TITLE).text(o.ylab);
  g.append("text").attr("x",o.letter[0]).attr("y",o.letter[1]).attr("font-weight","bold").attr("font-size",33).text(o.name);
}
function band(p,d,c){
  const a=d3.area().x(v=>p.x(v[0])).y0(v=>p.y(v[2])).y1(v=>p.y(v[1]));
  p.g.append("path").attr("d",a(d)).attr("fill",c);
}
function dots(p,d,c,r){
  p.g.append("g").selectAll("circle").data(d).join("circle").attr("cx",v=>p.x(v[0])).attr("cy",v=>p.y(v[1])).attr("r",r).attr("fill",c);
}
function zero(p){
  const {g,x,y,o}=p;
  g.append("line").attr("x1",x(0)).attr("x2",x(0)).attr("y1",o.box[1]).attr("y2",o.box[3]).attr("stroke","#000").attr("stroke-width",2.2).attr("stroke-dasharray","11 6");
  g.append("line").attr("y1",y(0)).attr("y2",y(0)).attr("x1",o.box[0]).attr("x2",o.box[2]).attr("stroke","#000").attr("stroke-width",2.2).attr("stroke-dasharray","11 6");
}
function loads(p,xs,ys,off,r){
  const {g,x,y}=p;
  samples.forEach((s,i)=>{
    g.append("line").attr("x1",x(0)).attr("y1",y(0)).attr("x2",x(xs[i])).attr("y2",y(ys[i])).attr("stroke",RED).attr("stroke-width",2);
  });
  samples.forEach((s,i)=>{
    g.append("circle").attr("cx",x(xs[i])).attr("cy",y(ys[i])).attr("r",r).attr("fill",RED);
  });
  samples.forEach((s,i)=>{
    g.append("text").attr("x",x(xs[i])+off[i][0]).attr("y",y(ys[i])+off[i][1]+8.5).attr("text-anchor","middle").attr("font-size",LAB).text(s);
  });
}
function qLegend(g,xd,xt,ys,cols){
  qNames.forEach((n,i)=>{
    g.append("text").attr("x",xt).attr("y",ys[i]+8.5).attr("text-anchor","end").attr("font-weight","bold").attr("font-size",LAB).text(n);
    g.append("circle").attr("cx",xd).attr("cy",ys[i]).attr("r",7).attr("fill",cols[i]);
  });
}

// A
const pA=panel({name:"A",box:[105,35,552,466],xd:[1,9],xr:[132,525],yd:[0,.8],yr:[443,103],xt:components,yt:[0,.2,.4,.6,.8],yf:d3.format(".1f"),
  xlab:"Principal Component",ylab:"Proportion of variance",xtitle:[330,537],ytitle:[35,255],letter:[157,74]});
axes(pA);
const seriesA=components.map((c,i)=>[c,proportion[i]]);
pA.g.append("path").attr("d",d3.line().x(v=>pA.x(v[0])).y(v=>pA.y(v[1]))(seriesA)).attr("fill","none").attr("stroke","#000").attr("stroke-width",2);
dots(pA,seriesA,"#000",5.5);

// B
const pB=panel({name:"B",box:[711,35,1171,466],xd:[0,10],xr:[845,1097],yd:[-4,4],yr:[407,102],xt:xTicksBC,xf:hideNeg5,yt:yTicksB,yts:24,
  xlab:"PC 1 (89.7%)",ylab:"PC 2 (4.2%)",xtitle:[922,537],ytitle:[655,275],letter:[731,73]});
band(pB,bandBQ4,Q[3]);dots(pB,scatterBQ4,Q[3],1.5);
band(pB,bandBQ3,Q[2]);dots(pB,scatterBQ3,Q[2],1.6);
band(pB,bandBQ2,Q[1]);dots(pB,scatterBQ2,Q[1],1.6);band(pB,bandBQ1,Q[0]);
zero(pB);axes(pB);
loads(pB,loadPC1b,loadPC2,labelOffsetB,5);
qLegend(pB.g,1155,1143,[78,106,134,161],["#000","#4a4a4a","#808080","#bdbdbd"]);

// C
const pC=panel({name:"C",box:[92,654,552,1086],xd:[0,10],xr:[226,478],yd:[-4,4],yr:[1040,672],xt:xTicksBC,xf:hideNeg5,yt:yTicksCD,
  xlab:"PC 1 (89.7%)",ylab:"PC 3 (1.7%)",xtitle:[305,1156],ytitle:[36,890],letter:[118,695]});
band(pC,bandCQ4,Q[3]);dots(pC,scatterCQ4,Q[3],1.5);
band(pC,bandCQ3,Q[2]);dots(pC,scatterCQ3,Q[2],1.6);
band(pC,bandCQ2,Q[1]);dots(pC,scatterCQ2,Q[1],1.6);band(pC,bandCQ1,Q[0]);
zero(pC);axes(pC);
loads(pC,loadPC1c,loadPC3,labelOffsetC,5);
qLegend(pC.g,530,517,[690,717.5,745.5,773],["#000","#4a4a4a","#808080","#d6d6d6"]);
pC.g.append("text").attr("x",499).attr("y",839).attr("font-weight","bold").attr("font-style","italic").attr("font-size",17).text("RBCS");
pC.g.append("path").attr("d","M501.7,847.3L490,835M489,842L488.5,833.5L497,834.5").attr("fill","none").attr("stroke","#000").attr("stroke-width",1.6);

// D
const pD=panel({name:"D",box:[711,654,1171,1086],xd:[-4,4],xr:[774,1099],yd:[-4,4],yr:[1040,672],xt:xTicksD,yt:yTicksCD,yts:24,
  xlab:"PC 2 (4.2%)",ylab:"PC 3 (1.7%)",xtitle:[928,1156],ytitle:[655,893],letter:[733,692]});
pD.g.append("path").attr("d",d3.line().x(v=>pD.x(v[0])).y(v=>pD.y(v[1])).curve(d3.curveLinearClosed)(blobD)).attr("fill",Q[3]);
dots(pD,scatterD,Q[3],1.6);
const sizeBlue=d3.scaleLinear().domain([0,3.6]).range([6.5,8.5]);
const sizeD=d3.scaleLinear().domain([0,3.6]).range([5,8]);
const sized=(d,c,s)=>pD.g.append("g").selectAll("circle").data(d).join("circle").attr("cx",v=>pD.x(v[0])).attr("cy",v=>pD.y(v[1])).attr("r",v=>s(Math.hypot(v[0],v[1]))).attr("fill",c);
sized(orangeOnly,"#ff8c14",sizeD);sized(blueOnly,"#6a55ee",sizeBlue);sized(blackOnly,"#000",sizeD);
zero(pD);axes(pD);
loads(pD,loadPC2,loadPC3,labelOffsetD,4.5);
[["YF only",953,1153,"#000",7],["YC only",987,1155,"#ff8c14",7],["SC only",1022,1158,"#0a0ab8",7],["not unique",1052,1155,"#808080",3]].forEach(r=>{
  pD.g.append("text").attr("x",1137).attr("y",r[1]+8).attr("text-anchor","end").attr("font-weight","bold").attr("font-size",22).text(r[0]);
  pD.g.append("circle").attr("cx",r[2]).attr("cy",r[1]).attr("r",r[4]).attr("fill",r[3]);
});
</script></body></html>
